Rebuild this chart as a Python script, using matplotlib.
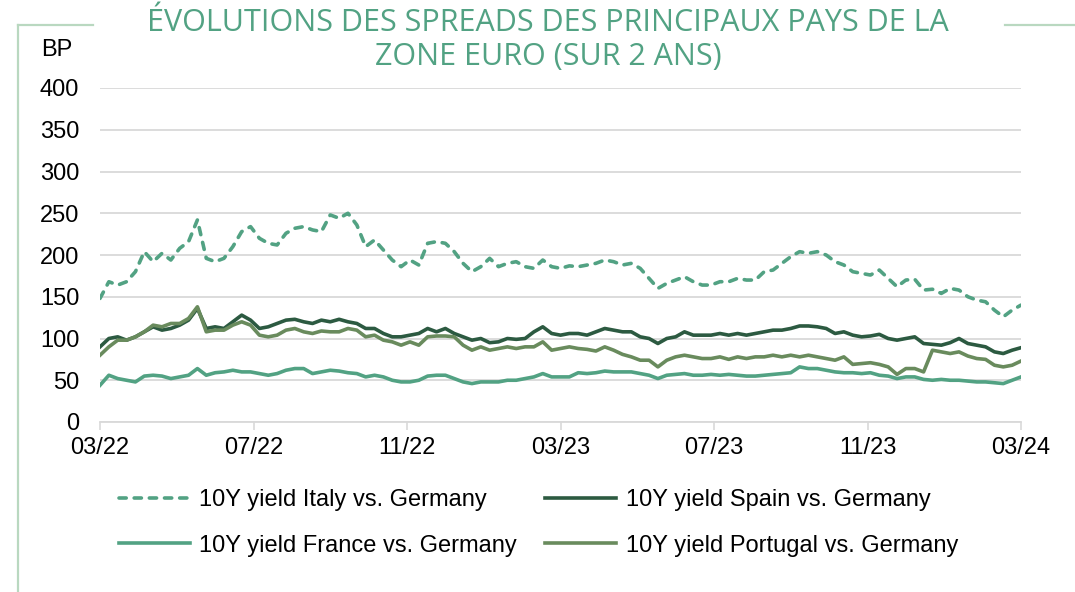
import matplotlib
matplotlib.use("Agg")
import matplotlib.pyplot as plt
from matplotlib.lines import Line2D
import numpy as np

# weekly spreads in basis points, 03/22 -> 03/24
italy = [148, 168, 164, 168, 180, 204, 192, 202, 194, 208, 216, 242, 196, 192, 196, 210,
         228, 234, 220, 214, 212, 226, 232, 234, 230, 228, 248, 244, 250, 236, 210, 218,
         206, 194, 186, 194, 188, 214, 216, 214, 204, 190, 180, 186, 196, 186, 190, 192,
         186, 184, 194, 186, 184, 187, 186, 188, 190, 194, 192, 188, 190, 184, 172, 160,
         166, 170, 174, 168, 164, 164, 168, 168, 172, 170, 170, 180, 182, 190, 198, 204,
         202, 204, 200, 192, 188, 180, 178, 176, 182, 172, 162, 170, 171, 158, 159, 154,
         160, 158, 150, 146, 144, 134, 126, 134, 140]
spain = [90, 100, 102, 98, 102, 108, 114, 110, 112, 116, 122, 136, 112, 114, 112, 120,
         128, 122, 112, 114, 118, 122, 123, 120, 118, 122, 120, 123, 120, 118, 112, 112,
         106, 102, 102, 104, 106, 112, 108, 112, 106, 102, 98, 100, 95, 96, 100, 99,
         100, 108, 114, 106, 104, 106, 106, 104, 108, 112, 110, 108, 108, 102, 100, 94,
         100, 102, 108, 104, 104, 104, 106, 104, 106, 104, 106, 108, 110, 110, 112, 115,
         115, 114, 112, 106, 108, 104, 102, 103, 105, 100, 98, 100, 102, 94, 93, 92,
         95, 100, 94, 92, 90, 84, 82, 86, 89]
france = [44, 56, 52, 50, 48, 55, 56, 55, 52, 54, 56, 64, 56, 59, 60, 62,
          60, 60, 58, 56, 58, 62, 64, 64, 58, 60, 62, 61, 59, 58, 54, 56,
          54, 50, 48, 48, 50, 55, 56, 56, 52, 48, 46, 48, 48, 48, 50, 50,
          52, 54, 58, 54, 54, 54, 59, 58, 59, 61, 60, 60, 60, 58, 56, 52,
          56, 57, 58, 56, 56, 57, 56, 57, 56, 55, 55, 56, 57, 58, 59, 66,
          64, 64, 62, 60, 59, 59, 58, 59, 56, 55, 52, 54, 54, 51, 50, 51,
          50, 50, 49, 48, 48, 47, 46, 50, 54]
portugal = [80, 90, 98, 98, 102, 108, 116, 114, 118, 118, 124, 138, 108, 110, 110, 116,
            120, 116, 104, 102, 104, 110, 112, 108, 106, 109, 108, 108, 112, 110, 102, 104,
            98, 96, 92, 96, 92, 102, 103, 103, 102, 92, 86, 90, 86, 88, 90, 88,
            90, 90, 96, 86, 88, 90, 88, 87, 85, 90, 86, 81, 78, 74, 74, 66,
            74, 78, 80, 78, 76, 76, 78, 75, 78, 76, 78, 78, 80, 78, 80, 78,
            80, 78, 76, 74, 78, 69, 70, 71, 69, 66, 57, 64, 64, 60, 86, 84,
            82, 84, 79, 76, 75, 68, 66, 68, 73]
weeks = np.arange(len(italy))
tick_labels = ["03/22", "07/22", "11/22", "03/23", "07/23", "11/23", "03/24"]
y_ticks = [0, 50, 100, 150, 200, 250, 300, 350, 400]

teal = "#52a283"
dark = "#2c5a41"
olive = "#698b5d"
grid_c = "#d9d9d9"

plt.rcParams["font.family"] = ["Liberation Sans", "DejaVu Sans"]

fig = plt.figure(figsize=(10.75, 5.92), dpi=100)
ax = fig.add_axes([100 / 1075, 1 - 422 / 592, 921 / 1075, 334 / 592])

lw = 2.6
l_it, = ax.plot(weeks, italy, color=teal, lw=lw, dashes=(2.0, 2.2),
                dash_capstyle="round", label="10Y yield Italy vs. Germany", zorder=3)
l_es, = ax.plot(weeks, spain, color=dark, lw=lw, label="10Y yield Spain vs. Germany", zorder=3)
l_fr, = ax.plot(weeks, france, color=teal, lw=lw, label="10Y yield France vs. Germany", zorder=3)
l_pt, = ax.plot(weeks, portugal, color=olive, lw=lw, label="10Y yield Portugal vs. Germany", zorder=4)

ax.set_xlim(0, len(italy) - 1)
ax.set_ylim(0, 400)
ax.set_yticks(y_ticks)
ax.set_xticks(np.linspace(0, len(italy) - 1, len(tick_labels)))
ax.set_xticklabels(tick_labels)
ax.tick_params(axis="y", length=0, pad=15, labelsize=17)
ax.tick_params(axis="x", length=6, width=1.2, color=grid_c, pad=5, labelsize=17)
ax.grid(axis="y", color=grid_c, lw=1.3, zorder=0)
ax.set_axisbelow(True)
for s in ["top", "right", "left"]:
    ax.spines[s].set_visible(False)
ax.spines["bottom"].set_color(grid_c)
ax.spines["bottom"].set_linewidth(1.3)

fig.text(57 / 1075, 1 - 50 / 592, "BP", fontsize=17, ha="center", va="center")

fig.text(548 / 1075, 1 - 23 / 592, "ÉVOLUTIONS DES SPREADS DES PRINCIPAUX PAYS DE LA",
         fontsize=22, color=teal, ha="center", va="center", family="Open Sans")
fig.text(548 / 1075, 1 - 57 / 592, "ZONE EURO (SUR 2 ANS)",
         fontsize=22, color=teal, ha="center", va="center", family="Open Sans")

# frame decoration
frame_c = "#b9d8c0"
fig.add_artist(Line2D([18 / 1075, 18 / 1075], [0, 1 - 25 / 592], color=frame_c, lw=1.6))
fig.add_artist(Line2D([18 / 1075, 93 / 1075], [1 - 25 / 592, 1 - 25 / 592], color=frame_c, lw=1.6))
fig.add_artist(Line2D([1005 / 1075, 1], [1 - 25 / 592, 1 - 25 / 592], color=frame_c, lw=1.6))

fig.legend([l_it, l_fr, l_es, l_pt],
           [l_it.get_label(), l_fr.get_label(), l_es.get_label(), l_pt.get_label()],
           ncol=2, loc="upper left", bbox_to_anchor=(119 / 1075, 1 - 489 / 592),
           frameon=False, fontsize=17, handlelength=3.0, handletextpad=0.4,
           columnspacing=1.2, labelspacing=1.0, borderpad=0, borderaxespad=0)

fig.savefig("out.png", dpi=100)
